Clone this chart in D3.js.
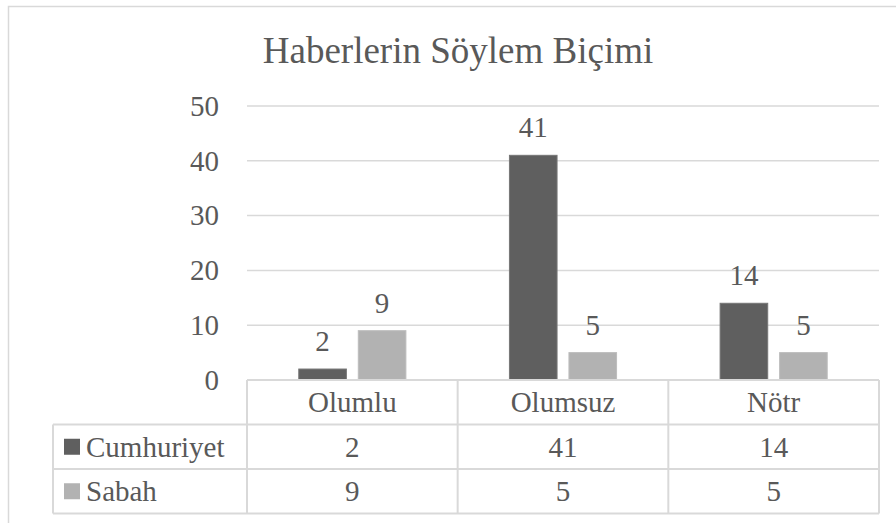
<!DOCTYPE html>
<html>
<head>
<meta charset="utf-8">
<title>Haberlerin Söylem Biçimi</title>
<script src="https://cdn.jsdelivr.net/npm/d3@7"></script>
<style>
  body { margin: 0; background: #fff; }
  svg text { font-family: "Liberation Serif", "Times New Roman", Times, "DejaVu Serif", serif; fill: #595959; }
</style>
</head>
<body>
<script>
// data
var categories = ["Olumlu", "Olumsuz", "Nötr"];
var seriesNames = ["Cumhuriyet", "Sabah"];
var cumhuriyet = [2, 41, 14];
var sabah = [9, 5, 5];
var yTicks = [0, 10, 20, 30, 40, 50];
var colors = ["#5f5f5f", "#b2b2b2"];

var seriesValues = [cumhuriyet, sabah];
var serif = "'Liberation Serif', 'Times New Roman', Times, 'DejaVu Serif', serif";

var totalWidth = 896, totalHeight = 523;
var plot = {left: 247, right: 879, top: 106, bottom: 380};
var rowH = 44.5;
var tableLeft = 53;

var svg = d3.select("body").append("svg")
    .attr("width", totalWidth)
    .attr("height", totalHeight)
    .style("font-family", serif);

// chart border (runs off the right and bottom of the picture)
svg.append("rect")
    .attr("x", 8.5).attr("y", 6.5)
    .attr("width", 900).attr("height", 530)
    .attr("fill", "none")
    .attr("stroke", "#d9d9d9")
    .attr("stroke-width", 1.5);

// title
svg.append("text")
    .attr("x", 458).attr("y", 63)
    .attr("text-anchor", "middle")
    .style("font-size", "37px")
    .text("Haberlerin Söylem Biçimi");

// scales
var y = d3.scaleLinear()
    .domain([0, 50])
    .range([plot.bottom, plot.top]);

var x = d3.scaleBand()
    .domain(categories)
    .range([plot.left, plot.right])
    .padding(0);

var xSub = d3.scaleBand()
    .domain(seriesNames)
    .range([0, x.bandwidth()])
    .paddingInner(0.2)
    .paddingOuter(0.87);

// gridlines
svg.append("g")
    .selectAll("line")
    .data(yTicks.filter(function(d) { return d > 0; }))
    .enter()
    .append("line")
        .attr("x1", plot.left).attr("x2", plot.right)
        .attr("y1", function(d) { return y(d); })
        .attr("y2", function(d) { return y(d); })
        .attr("stroke", "#d9d9d9")
        .attr("stroke-width", 1.5);

// y axis labels
var yAxis = d3.axisLeft(y).tickValues(yTicks).tickSize(0).tickPadding(28);
var yAxisG = svg.append("g")
    .attr("transform", "translate(" + plot.left + ",0)")
    .call(yAxis);
yAxisG.attr("font-family", null).attr("font-size", null);
yAxisG.select(".domain").remove();
yAxisG.selectAll("text")
    .attr("fill", "#595959")
    .style("font-family", serif)
    .style("font-size", "29px");

// bars
seriesNames.forEach(function(name, si) {
    var g = svg.append("g");
    g.selectAll("rect")
        .data(seriesValues[si])
        .enter()
        .append("rect")
            .attr("x", function(d, i) { return x(categories[i]) + xSub(name); })
            .attr("y", function(d) { return y(d); })
            .attr("width", xSub.bandwidth())
            .attr("height", function(d) { return y(0) - y(d); })
            .attr("fill", colors[si])
            .attr("stroke", si === 0 ? "#767676" : "#bdbdbd")
            .attr("stroke-width", 1);

    g.selectAll("text")
        .data(seriesValues[si])
        .enter()
        .append("text")
            .attr("x", function(d, i) { return x(categories[i]) + xSub(name) + xSub.bandwidth() / 2; })
            .attr("y", function(d) { return y(d) - 18; })
            .attr("text-anchor", "middle")
            .style("font-size", "29px")
            .text(function(d) { return d; });
});

// data table
var table = svg.append("g");
var lineColor = "#d9d9d9";

// horizontal lines
var rowLines = [plot.bottom, plot.bottom + rowH, plot.bottom + 2 * rowH, plot.bottom + 3 * rowH];
rowLines.forEach(function(ly, i) {
    table.append("line")
        .attr("x1", i === 0 ? plot.left : tableLeft).attr("x2", plot.right)
        .attr("y1", ly).attr("y2", ly)
        .attr("stroke", lineColor).attr("stroke-width", 2);
});

// vertical lines
var colLines = categories.map(function(c) { return x(c); }).concat([plot.right]);
colLines.forEach(function(lx) {
    table.append("line")
        .attr("x1", lx).attr("x2", lx)
        .attr("y1", plot.bottom).attr("y2", rowLines[3])
        .attr("stroke", lineColor).attr("stroke-width", 2);
});
table.append("line")
    .attr("x1", tableLeft).attr("x2", tableLeft)
    .attr("y1", rowLines[1]).attr("y2", rowLines[3])
    .attr("stroke", lineColor).attr("stroke-width", 2);

// category header
table.selectAll("text.cat")
    .data(categories)
    .enter()
    .append("text")
        .attr("class", "cat")
        .attr("x", function(d) { return x(d) + x.bandwidth() / 2; })
        .attr("y", plot.bottom + rowH / 2)
        .attr("dy", "0.35em")
        .attr("text-anchor", "middle")
        .style("font-size", "29px")
        .text(function(d) { return d; });

// series rows
seriesNames.forEach(function(name, si) {
    var cy = plot.bottom + rowH * (si + 1) + rowH / 2;
    table.append("rect")
        .attr("x", 64).attr("y", cy - 8)
        .attr("width", 16).attr("height", 16)
        .attr("fill", colors[si]);
    table.append("text")
        .attr("x", 86).attr("y", cy)
        .attr("dy", "0.35em")
        .style("font-size", "29px")
        .text(name);
    table.selectAll("text.v" + si)
        .data(seriesValues[si])
        .enter()
        .append("text")
            .attr("class", "v" + si)
            .attr("x", function(d, i) { return x(categories[i]) + x.bandwidth() / 2; })
            .attr("y", cy)
            .attr("dy", "0.35em")
            .attr("text-anchor", "middle")
            .style("font-size", "29px")
            .text(function(d) { return d; });
});
</script>
</body>
</html>
